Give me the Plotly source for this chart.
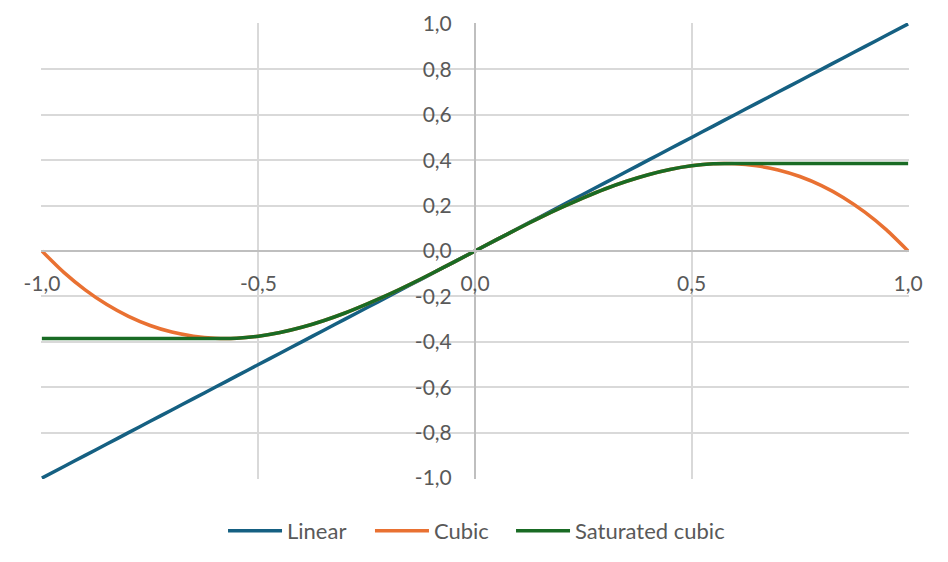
import plotly.graph_objects as go

x_values = [-1.00, -0.95, -0.90, -0.85, -0.80, -0.75, -0.70, -0.65, -0.60, -0.55, -0.50,
            -0.45, -0.40, -0.35, -0.30, -0.25, -0.20, -0.15, -0.10, -0.05, 0.00,
            0.05, 0.10, 0.15, 0.20, 0.25, 0.30, 0.35, 0.40, 0.45, 0.50,
            0.55, 0.60, 0.65, 0.70, 0.75, 0.80, 0.85, 0.90, 0.95, 1.00]

linear = [-1.00, -0.95, -0.90, -0.85, -0.80, -0.75, -0.70, -0.65, -0.60, -0.55, -0.50,
          -0.45, -0.40, -0.35, -0.30, -0.25, -0.20, -0.15, -0.10, -0.05, 0.00,
          0.05, 0.10, 0.15, 0.20, 0.25, 0.30, 0.35, 0.40, 0.45, 0.50,
          0.55, 0.60, 0.65, 0.70, 0.75, 0.80, 0.85, 0.90, 0.95, 1.00]

cubic = [0.000, -0.093, -0.171, -0.236, -0.288, -0.328, -0.357, -0.375, -0.384, -0.384, -0.375,
         -0.359, -0.336, -0.307, -0.273, -0.234, -0.192, -0.147, -0.099, -0.050, 0.000,
         0.050, 0.099, 0.147, 0.192, 0.234, 0.273, 0.307, 0.336, 0.359, 0.375,
         0.384, 0.384, 0.375, 0.357, 0.328, 0.288, 0.236, 0.171, 0.093, 0.000]

saturated_cubic = [-0.385, -0.385, -0.385, -0.385, -0.385, -0.385, -0.385, -0.385, -0.385, -0.384, -0.375,
                   -0.359, -0.336, -0.307, -0.273, -0.234, -0.192, -0.147, -0.099, -0.050, 0.000,
                   0.050, 0.099, 0.147, 0.192, 0.234, 0.273, 0.307, 0.336, 0.359, 0.375,
                   0.384, 0.385, 0.385, 0.385, 0.385, 0.385, 0.385, 0.385, 0.385, 0.385]

x_tick_vals = [-1.0, -0.5, 0.0, 0.5, 1.0]
x_tick_text = ["-1,0", "-0,5", "0,0", "0,5", "1,0"]
y_tick_vals = [-1.0, -0.8, -0.6, -0.4, -0.2, 0.0, 0.2, 0.4, 0.6, 0.8, 1.0]
y_tick_text = ["-1,0", "-0,8", "-0,6", "-0,4", "-0,2", "0,0", "0,2", "0,4", "0,6", "0,8", "1,0"]

series_names = ["Linear", "Cubic", "Saturated cubic"]
series_colors = ["#156082", "#E97132", "#196B24"]
legend_ids = ["legend", "legend2", "legend3"]
legend_x = [0.2097, 0.379, 0.5415]

FONT = "Lato, Calibri, sans-serif"
TICK_SIZE = 21
LEGEND_SIZE = 22

fig = go.Figure()
for name, ys, color, lid in zip(series_names, [linear, cubic, saturated_cubic], series_colors, legend_ids):
    fig.add_trace(go.Scatter(x=x_values, y=ys, name=name, mode="lines", legend=lid,
                             line=dict(color=color, width=3.5, shape="spline", smoothing=0.6)))

legend_common = dict(orientation="h", xanchor="left", yref="container", y=0.0552, yanchor="middle",
                     font=dict(family=FONT, size=LEGEND_SIZE, color="#595959"), itemwidth=54,
                     bgcolor="rgba(0,0,0,0)")

fig.update_layout(
    width=948, height=562,
    margin=dict(l=41, r=39, t=23, b=83),
    paper_bgcolor="white", plot_bgcolor="white",
    font=dict(family=FONT, size=TICK_SIZE, color="#595959"),
    showlegend=True,
    legend=dict(x=legend_x[0], **legend_common),
    legend2=dict(x=legend_x[1], **legend_common),
    legend3=dict(x=legend_x[2], **legend_common),
    xaxis=dict(range=[-1.002, 1.002], tickvals=x_tick_vals, ticktext=x_tick_text,
               showgrid=True, gridcolor="#d9d9d9", gridwidth=1.5, automargin=False,
               zeroline=False, showline=True, linecolor="#bfbfbf", linewidth=2,
               anchor="free", position=0.5, ticks="", ticklabelstandoff=14,
               tickfont=dict(size=TICK_SIZE, color="#595959")),
    yaxis=dict(range=[-1.004, 1.004], tickvals=y_tick_vals, ticktext=y_tick_text,
               showgrid=True, gridcolor="#d9d9d9", gridwidth=1.5, automargin=False,
               zeroline=False, showline=True, linecolor="#bfbfbf", linewidth=2,
               anchor="free", position=0.5, ticks="", ticklabelstandoff=18,
               tickfont=dict(size=TICK_SIZE, color="#595959")),
)

fig.write_html("out.html", config={"displayModeBar": False},
               post_script="document.body.style.margin='0';document.body.style.padding='0';document.body.style.overflow='hidden';")
